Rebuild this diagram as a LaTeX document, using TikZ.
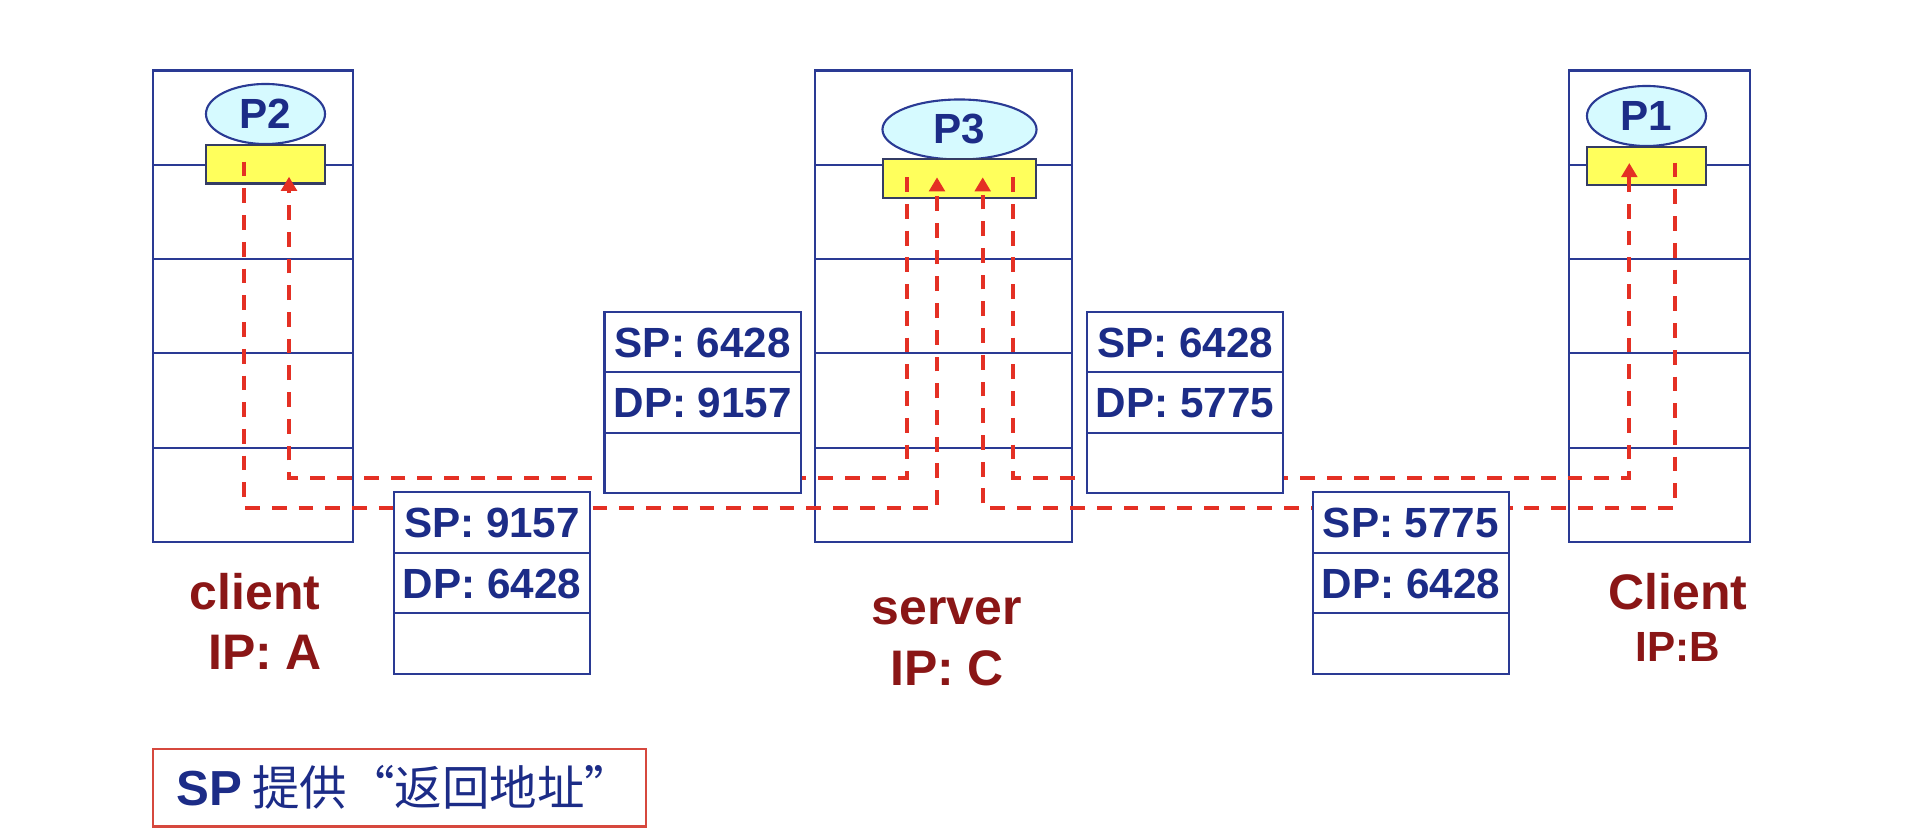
\documentclass[tikz,border=0pt]{standalone}
\usepackage{fontspec}
\setmainfont{Liberation Sans}
\newfontfamily\cjk{Noto Sans CJK SC}
\usetikzlibrary{shapes.geometric,shapes.multipart,arrows.meta}

\definecolor{hostblue}{RGB}{42,58,148}
\definecolor{txtblue}{RGB}{28,44,135}
\definecolor{procfill}{RGB}{214,250,255}
\definecolor{sockyel}{RGB}{255,255,92}
\definecolor{sockline}{RGB}{52,60,100}
\definecolor{flowred}{RGB}{228,48,36}
\definecolor{lblred}{RGB}{138,22,22}
\definecolor{noteframe}{RGB}{214,72,62}

\newcommand{\hostrow}{\rule{0pt}{0.921cm}}
\newcommand{\hoststack}{\hostrow\nodepart{two}\hostrow\nodepart{three}\hostrow\nodepart{four}\hostrow\nodepart{five}\hostrow}
\newcommand{\pktrow}{\rule[-0.14cm]{0pt}{0.58cm}}
\newcommand{\ports}[2]{\pktrow SP: #1\nodepart{two}\pktrow DP: #2\nodepart{three}\pktrow}

\begin{document}
\begin{tikzpicture}[x=0.01cm,y=-0.01cm]
% Styles
\tikzset{
    host/.style={rectangle split, rectangle split parts=5, draw=hostblue, line width=0.6pt, inner sep=0pt},
    proc/.style={ellipse, draw=hostblue, fill=procfill, line width=0.6pt, inner sep=0pt, minimum height=0.6cm,
        text=txtblue, font=\fontsize{12pt}{14pt}\selectfont\bfseries},
    sock/.style={rectangle, draw=sockline, fill=sockyel, line width=0.6pt, inner sep=0pt, minimum height=0.385cm},
    pkt/.style={rectangle split, rectangle split parts=3, draw=hostblue, fill=white, line width=0.7pt,
        inner sep=0pt, minimum width=1.96cm, text=txtblue, font=\fontsize{12pt}{14pt}\selectfont\bfseries},
    flow/.style={draw=flowred, line width=1.1pt, dash pattern=on 4.2pt off 3.4pt},
    go/.style={-{Triangle[width=4.4pt,length=4pt]}},
    tag/.style={text=lblred, font=\fontsize{14.2pt}{17pt}\selectfont\bfseries, inner sep=0pt, anchor=base}
}
\useasboundingbox (0,0) rectangle (1927,828);
% Hosts
\node[host, minimum width=2.003cm] (HOSTa) at (252.85,306.2) {\hoststack};
\node[host, minimum width=2.566cm] (HOSTc) at (943.7,306.2) {\hoststack};
\node[host, minimum width=1.813cm] (HOSTb) at (1659.35,306.2) {\hoststack};
% Processes and sockets
\node[proc, minimum width=1.19cm] (PRCa) at (265.5,114) {P2};
\node[proc, minimum width=1.54cm] (PRCc) at (959.5,129.5) {P3};
\node[proc, minimum width=1.19cm] (PRCb) at (1646.5,116) {P1};
\node[sock, minimum width=1.19cm] (SOCKa) at (265.5,164.2) {};
\node[sock, minimum width=1.53cm, minimum height=0.393cm] (SOCKc) at (959.5,178.7) {};
\node[sock, minimum width=1.19cm] (SOCKb) at (1646.5,165.85) {};
% Flows
\coordinate (a1) at (244,161.7);
\coordinate (a2) at (289,176.7);
\coordinate (c1) at (906.7,177.3);
\coordinate (c2) at (937,177.3);
\coordinate (c3) at (982.7,177.3);
\coordinate (c4) at (1012.7,177.3);
\coordinate (b1) at (1629.3,163);
\coordinate (b2) at (1675,162.7);
\coordinate (busU) at (0,477.7);
\coordinate (busL) at (0,508);
\draw[flow,go] (a1) -- (a1 |- busL) -| (c2);
\draw[flow,go] (c1) -- (c1 |- busU) -| (a2);
\draw[flow,go] (c4) -- (c4 |- busU) -| (b1);
\draw[flow,go] (b2) -- (b2 |- busL) -| (c3);
% Packets
\node[pkt] (PKTa) at (492,583) {\ports{9157}{6428}};
\node[pkt] (PKTb) at (702.7,402.5) {\ports{6428}{9157}};
\node[pkt] (PKTc) at (1185,402.5) {\ports{6428}{5775}};
\node[pkt] (PKTd) at (1410.85,583) {\ports{5775}{6428}};
% Labels
\node[tag] (LBLa) at (255,610) {client};
\node[tag] (IPa) at (265,670) {IP: A};
\node[tag] (LBLc) at (946.7,625) {server};
\node[tag] (IPc) at (947,686) {IP: C};
\node[tag] (LBLb) at (1678,610) {Client};
\node[tag, font=\fontsize{12pt}{14pt}\selectfont\bfseries] (IPb) at (1678,661.7) {IP:B};
\node[draw=noteframe, line width=0.6pt, minimum width=4.933cm, minimum height=0.775cm, inner sep=0pt, text=txtblue]
    (NOTE) at (399.35,787.75) {\hspace{0.1cm}{\fontsize{14pt}{17pt}\selectfont\bfseries SP} {\cjk\fontsize{13.5pt}{17pt}\selectfont 提供“返回地址”}};
\end{tikzpicture}
\end{document}
